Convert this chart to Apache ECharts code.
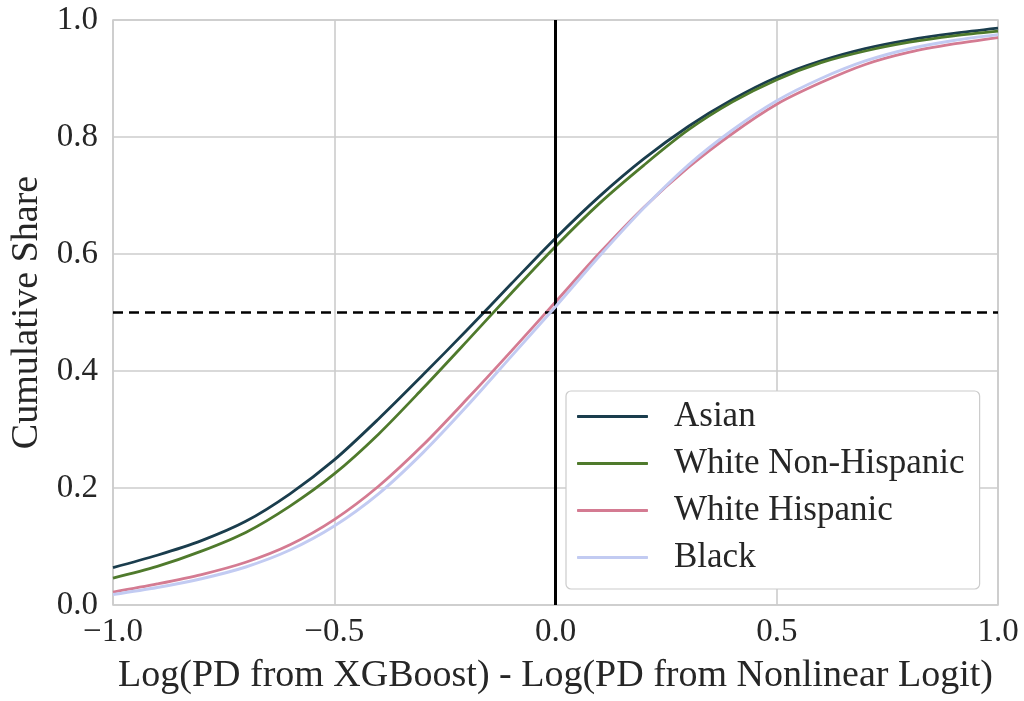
<!DOCTYPE html>
<html>
<head>
<meta charset="utf-8">
<script src="https://cdn.jsdelivr.net/npm/echarts@6/dist/echarts.min.js"></script>
<style>
  html, body { margin: 0; padding: 0; background: #ffffff; }
  #chart { width: 1024px; height: 701px; }
</style>
</head>
<body>
<div id="chart"></div>
<script>
// Difference in log PD between the two models, on the horizontal axis
const xValues = [-1.0, -0.9, -0.8, -0.7, -0.6, -0.5, -0.4, -0.3, -0.2, -0.1, 0.0,
                 0.1, 0.2, 0.3, 0.4, 0.5, 0.6, 0.7, 0.8, 0.9, 1.0];

// Cumulative share of borrowers at each x, by group
const asian = [0.064, 0.085, 0.110, 0.143, 0.190, 0.248, 0.318, 0.393, 0.470, 0.549, 0.627,
               0.699, 0.763, 0.818, 0.864, 0.902, 0.930, 0.951, 0.966, 0.977, 0.986];
const whiteNonHispanic = [0.046, 0.066, 0.092, 0.124, 0.169, 0.224, 0.292, 0.370, 0.451, 0.533, 0.613,
                          0.687, 0.752, 0.812, 0.860, 0.898, 0.927, 0.947, 0.962, 0.973, 0.981];
const whiteHispanic = [0.022, 0.036, 0.052, 0.073, 0.103, 0.146, 0.203, 0.273, 0.352, 0.434, 0.518,
                       0.602, 0.680, 0.748, 0.806, 0.856, 0.893, 0.924, 0.945, 0.959, 0.970];
const black = [0.018, 0.030, 0.045, 0.065, 0.094, 0.135, 0.190, 0.260, 0.340, 0.425, 0.510,
               0.597, 0.679, 0.752, 0.812, 0.862, 0.900, 0.930, 0.951, 0.965, 0.975];

const groupNames = ['Asian', 'White Non-Hispanic', 'White Hispanic', 'Black'];
const groupColors = ['#1a3d4d', '#4f7a2c', '#d47b92', '#c2cbf2'];
const groupValues = [asian, whiteNonHispanic, whiteHispanic, black];

// Reference lines: zero difference and the median share
const zeroLineX = 0;
const medianLineY = 0.5;

const xTickLabels = ['\u22121.0', '\u22120.5', '0.0', '0.5', '1.0'];

const FONT = '"Liberation Serif", "DejaVu Serif", serif';
const TEXT = '#262626';
const GRID = '#cccccc';

const chart = echarts.init(document.getElementById('chart'), null, { renderer: 'canvas' });

const lineSeries = groupNames.map((name, i) => ({
  name: name,
  type: 'line',
  data: xValues.map((x, j) => [x, groupValues[i][j]]),
  showSymbol: false,
  smooth: 0.3,
  lineStyle: { color: groupColors[i], width: i === 3 ? 3 : 2.8 },
  itemStyle: { color: groupColors[i] },
  z: 2 + i
}));

const refSeries = {
  name: 'refs',
  type: 'line',
  data: [],
  z: 10,
  markLine: {
    silent: true,
    symbol: ['none', 'none'],
    label: { show: false },
    animation: false,
    data: [
      { xAxis: zeroLineX, lineStyle: { color: '#000000', width: 3, type: 'solid' } },
      { yAxis: medianLineY, lineStyle: { color: '#000000', width: 2.6, type: [10, 6] } }
    ]
  }
};

chart.setOption({
  animation: false,
  backgroundColor: '#ffffff',
  grid: {
    left: 113, right: 26, top: 20, bottom: 96,
    outerBoundsMode: 'none',
    containLabel: false,
    show: true, borderColor: GRID, borderWidth: 1.6, backgroundColor: 'transparent'
  },
  xAxis: {
    type: 'value', min: -1, max: 1, interval: 0.5,
    name: 'Log(PD from XGBoost) - Log(PD from Nonlinear Logit)',
    nameLocation: 'middle', nameGap: 52,
    nameTextStyle: { fontFamily: FONT, fontSize: 38, color: TEXT },
    axisLine: { show: false }, axisTick: { show: false },
    axisLabel: {
      fontFamily: FONT, fontSize: 33, color: TEXT, margin: 11,
      formatter: (v) => xTickLabels[Math.round((v + 1) / 0.5)]
    },
    splitLine: { show: true, lineStyle: { color: GRID, width: 1.6 } }
  },
  yAxis: {
    type: 'value', min: 0, max: 1, interval: 0.2,
    name: 'Cumulative Share',
    nameLocation: 'middle', nameGap: 67,
    nameTextStyle: { fontFamily: FONT, fontSize: 38, color: TEXT },
    axisLine: { show: false }, axisTick: { show: false },
    axisLabel: {
      fontFamily: FONT, fontSize: 33, color: TEXT, margin: 15,
      formatter: (v) => v.toFixed(1)
    },
    splitLine: { show: true, lineStyle: { color: GRID, width: 1.6 } }
  },
  legend: {
    data: groupNames,
    orient: 'vertical',
    left: 566, top: 391,
    backgroundColor: '#ffffff',
    borderColor: '#cccccc', borderWidth: 1.2, borderRadius: 5,
    padding: [8, 15, 14, 11],
    itemWidth: 71, itemHeight: 3, itemGap: 12,
    icon: 'roundRect',
    textStyle: { fontFamily: FONT, fontSize: 35, color: TEXT, lineHeight: 30, padding: [0, 0, 0, 21] }
  },
  series: [...lineSeries, refSeries]
});
</script>
</body>
</html>
